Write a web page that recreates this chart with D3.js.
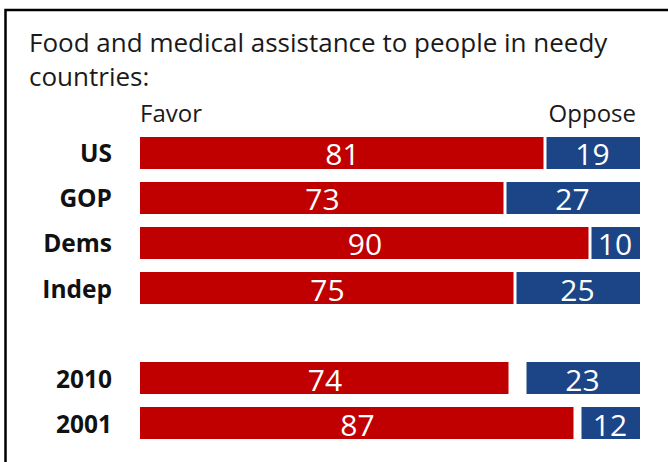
<!DOCTYPE html>
<html>
<head>
<meta charset="utf-8">
<script src="https://cdn.jsdelivr.net/npm/d3@7"></script>
<style>
  html, body { margin: 0; padding: 0; background: #fff; }
  svg { display: block; }
</style>
</head>
<body>
<div id="chart"></div>
<script>
const titleLines = ["Food and medical assistance to people in needy", "countries:"];
const categories = ["US", "GOP", "Dems", "Indep", "", "2010", "2001"];
const favor = [81, 73, 90, 75, null, 74, 87];
const oppose = [19, 27, 10, 25, null, 23, 12];
const seriesNames = ["Favor", "Oppose"];

const W = 668, H = 462;
const svg = d3.select("#chart").append("svg").attr("width", W).attr("height", H);
const font = "'Open Sans', Lato, sans-serif";

// frame (top and left rule)
svg.append("path")
  .attr("d", `M${W},10 H5.5 V${H}`)
  .attr("fill", "none").attr("stroke", "#000").attr("stroke-width", 2.5);

svg.selectAll("text.title").data(titleLines).join("text")
  .attr("class", "title")
  .attr("x", 29).attr("y", (d, i) => 52 + i * 34)
  .attr("font-family", font).attr("font-size", 26).attr("fill", "#1a1a1a")
  .text(d => d);

const x = d3.scaleLinear().domain([0, 100]).range([140, 640]);
const y = d3.scaleBand().domain(categories.map((c, i) => i)).range([137, 439]).paddingInner(0.289).paddingOuter(0);

const rows = categories.map((c, i) => ({ i, c, f: favor[i], o: oppose[i] })).filter(d => d.f != null);

// series headers
svg.append("text").attr("x", x(0)).attr("y", 122)
  .attr("font-family", font).attr("font-size", 24).attr("fill", "#1a1a1a")
  .text(seriesNames[0]);
svg.append("text").attr("x", x(100) - 4).attr("y", 122).attr("text-anchor", "end")
  .attr("font-family", font).attr("font-size", 24).attr("fill", "#1a1a1a")
  .text(seriesNames[1]);

const red = "#c00000", blue = "#1c4587";

const g = svg.append("g");
g.selectAll("rect.favor").data(rows).join("rect")
  .attr("class", "favor")
  .attr("x", x(0)).attr("y", d => y(d.i))
  .attr("width", d => x(d.f) - x(0) - 1.5).attr("height", y.bandwidth())
  .attr("fill", red);
g.selectAll("rect.oppose").data(rows).join("rect")
  .attr("class", "oppose")
  .attr("x", d => x(100 - d.o) + 1.5).attr("y", d => y(d.i))
  .attr("width", d => x(100) - x(100 - d.o) - 1.5).attr("height", y.bandwidth())
  .attr("fill", blue);

g.selectAll("text.fv").data(rows).join("text")
  .attr("class", "fv")
  .attr("x", d => (x(0) + x(d.f)) / 2).attr("y", d => y(d.i) + y.bandwidth() / 2 + 1)
  .attr("text-anchor", "middle").attr("dominant-baseline", "central")
  .attr("font-family", font).attr("font-size", 30).attr("fill", "#fff")
  .text(d => d.f);
g.selectAll("text.ov").data(rows).join("text")
  .attr("class", "ov")
  .attr("x", d => (x(100 - d.o) + x(100)) / 2).attr("y", d => y(d.i) + y.bandwidth() / 2 + 1)
  .attr("text-anchor", "middle").attr("dominant-baseline", "central")
  .attr("font-family", font).attr("font-size", 30).attr("fill", "#fff")
  .text(d => d.o);

g.selectAll("text.cat").data(rows).join("text")
  .attr("class", "cat")
  .attr("x", 112).attr("y", d => y(d.i) + y.bandwidth() / 2)
  .attr("text-anchor", "end").attr("dominant-baseline", "central")
  .attr("font-family", font).attr("font-size", 24.5).attr("font-weight", "bold").attr("fill", "#111")
  .text(d => d.c);
</script>
</body>
</html>
